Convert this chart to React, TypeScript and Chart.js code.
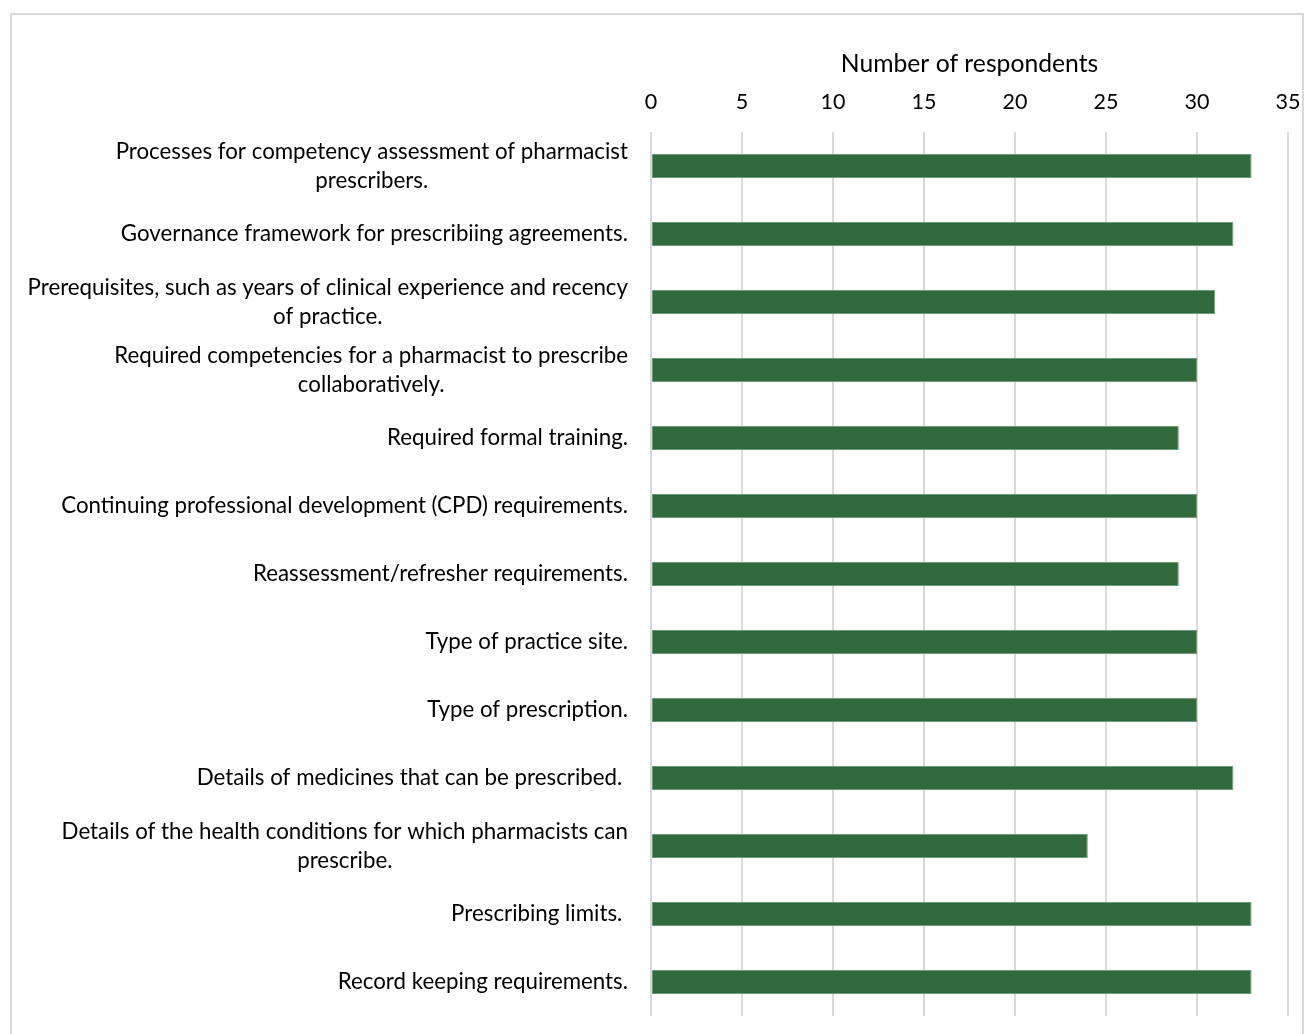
import React, { useEffect, useRef } from "react";
import { Chart, registerables } from "chart.js";

Chart.register(...registerables);

const categories: string[][] = [
  ["Processes for competency assessment of pharmacist", "prescribers."],
  ["Governance framework for prescribiing agreements."],
  ["Prerequisites, such as years of clinical experience and recency", "of practice."],
  ["Required competencies for a pharmacist to prescribe", "collaboratively."],
  ["Required formal training."],
  ["Continuing professional development (CPD) requirements."],
  ["Reassessment/refresher requirements."],
  ["Type of practice site."],
  ["Type of prescription."],
  ["Details of medicines that can be prescribed. "],
  ["Details of the health conditions for which pharmacists can", "prescribe."],
  ["Prescribing limits. "],
  ["Record keeping requirements."],
];

const respondents: number[] = [33, 32, 31, 30, 29, 30, 29, 30, 30, 32, 24, 33, 33];

const xTickValues: number[] = [0, 5, 10, 15, 20, 25, 30, 35];

const axisTitle = "Number of respondents";

const FONT = "Lato";
const LABEL_SIZE = 22.3;

export default function App() {
  const canvasRef = useRef<HTMLCanvasElement | null>(null);

  useEffect(() => {
    const canvas = canvasRef.current;
    if (!canvas) return;

    const labelPlugin = {
      id: "wrappedLabels",
      afterDraw(chart: any) {
        const ctx = chart.ctx as CanvasRenderingContext2D;
        const yScale = chart.scales.y;
        const rightEdge = yScale.right - 23;
        const lineH = 29;
        ctx.save();
        ctx.font = `${LABEL_SIZE}px "${FONT}"`;
        ctx.fillStyle = "#000000";
        ctx.textAlign = "center";
        ctx.textBaseline = "middle";
        categories.forEach((lines, i) => {
          const yc = yScale.getPixelForTick(i);
          const widest = Math.max(...lines.map((l) => ctx.measureText(l).width));
          const cx = rightEdge - widest / 2;
          const startY = yc - ((lines.length - 1) * lineH) / 2;
          lines.forEach((l, k) => {
            ctx.fillText(l, cx, startY + k * lineH);
          });
        });
        ctx.restore();
      },
    };

    const chart = new Chart(canvas, {
      type: "bar",
      data: {
        labels: categories.map((c) => c.join(" ")),
        datasets: [
          {
            data: respondents,
            backgroundColor: "#316a3d",
            borderColor: "#6f9a78",
            borderWidth: 1,
            borderSkipped: false,
            categoryPercentage: 1,
            barPercentage: 0.353,
          },
        ],
      },
      options: {
        indexAxis: "y",
        animation: false,
        responsive: false,
        maintainAspectRatio: false,
        layout: { padding: { left: 0, right: 28, top: 45, bottom: 18 } },
        plugins: {
          legend: { display: false },
          tooltip: { enabled: false },
        },
        scales: {
          x: {
            position: "top",
            min: 0,
            max: 35,
            afterBuildTicks: (scale: any) => {
              scale.ticks = xTickValues.map((v) => ({ value: v }));
            },
            afterFit: (scale: any) => {
              scale.height = 87;
              scale.paddingLeft = 0;
              scale.paddingRight = 0;
            },
            border: { display: false },
            grid: { color: "#d9d9d9", lineWidth: 2, drawTicks: false },
            ticks: {
              padding: 17,
              color: "#000000",
              font: { family: FONT, size: 21.5 },
            },
            title: {
              display: true,
              text: axisTitle,
              color: "#000000",
              font: { family: FONT, size: 24.7 },
              padding: { top: 4, bottom: 4 },
            },
          },
          y: {
            afterFit: (scale: any) => {
              scale.width = 651;
            },
            border: { display: false },
            grid: { display: false, drawTicks: false },
            ticks: { display: false },
          },
        },
      },
      plugins: [labelPlugin],
    });

    return () => chart.destroy();
  }, []);

  return (
    <div style={{ position: "absolute", left: 0, top: 0, width: 1316, height: 1034, background: "#fff", overflow: "hidden" }}>
      <div
        style={{
          position: "absolute",
          left: 10,
          top: 13,
          width: 1294,
          height: 1040,
          border: "2px solid #d9d9d9",
          boxSizing: "border-box",
        }}
      />
      <canvas ref={canvasRef} width={1316} height={1034} style={{ position: "absolute", left: 0, top: 0 }} />
    </div>
  );
}
